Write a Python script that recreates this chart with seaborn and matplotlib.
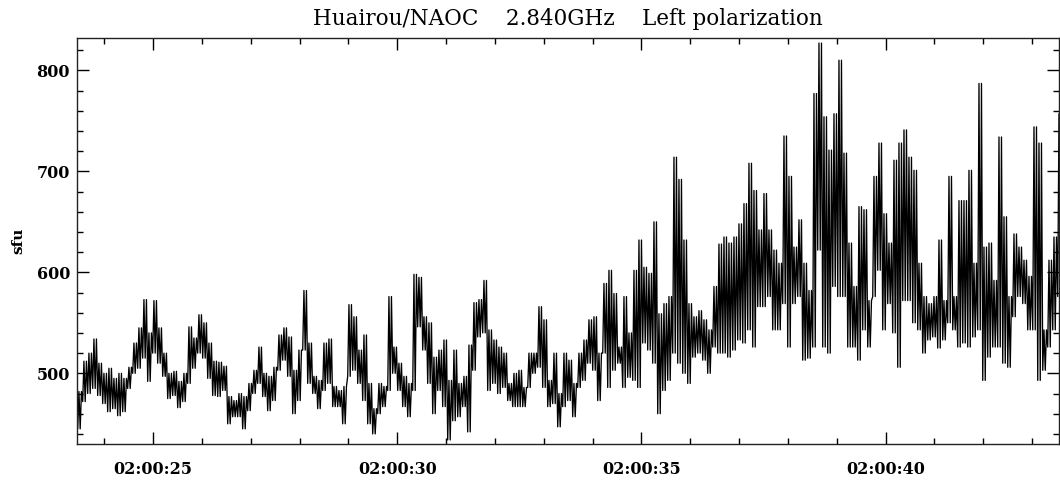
import numpy as np
import pandas as pd
import seaborn as sns
import matplotlib.pyplot as plt
from matplotlib.ticker import MultipleLocator, FuncFormatter

# Flux envelope: for each ~0.1 s slice, the low and high value (sfu)
flux_low = [
    445, 472, 480, 485, 478, 470, 462, 465, 458, 462, 485, 500, 505, 515, 492, 520, 510, 497, 475, 478, 466, 472, 490, 505, 520, 515, 495, 478,
    477, 483, 450, 457, 457, 445, 463, 480, 490, 477, 463, 473, 503, 513, 497, 460, 473, 523, 490, 480, 465, 483, 490, 467, 467, 450, 497, 503,
    490, 473, 450, 440, 460, 467, 483, 500, 483, 467, 457, 483, 546, 523, 490, 460, 483, 467, 434, 453, 457, 467, 442, 503, 536, 540, 483, 490,
    480, 486, 473, 467, 467, 467, 486, 500, 506, 486, 467, 470, 447, 467, 473, 457, 486, 493, 510, 503, 473, 520, 486, 503, 510, 486, 496, 493,
    486, 530, 523, 510, 460, 483, 493, 520, 510, 500, 490, 516, 520, 513, 500, 526, 520, 520, 516, 523, 533, 530, 543, 526, 566, 566, 576, 543,
    543, 569, 526, 569, 576, 513, 515, 526, 622, 526, 520, 586, 576, 576, 526, 526, 513, 543, 526, 576, 602, 543, 569, 540, 506, 572, 572, 550,
    543, 520, 533, 536, 525, 533, 550, 543, 526, 530, 526, 536, 543, 493, 516, 526, 526, 510, 506, 556, 576, 569, 543, 543, 493, 503, 526, 543, 576,
]
flux_high = [
    482, 512, 520, 534, 510, 500, 505, 495, 500, 495, 506, 530, 545, 573, 540, 572, 545, 520, 500, 502, 492, 500, 546, 535, 558, 550, 530, 512,
    511, 507, 477, 473, 480, 477, 490, 503, 526, 500, 497, 506, 538, 545, 536, 503, 523, 582, 530, 497, 493, 530, 534, 487, 483, 487, 568, 556,
    523, 538, 490, 465, 490, 487, 576, 526, 510, 497, 490, 598, 595, 556, 550, 516, 523, 533, 493, 523, 490, 497, 528, 570, 573, 592, 543, 533,
    526, 520, 490, 500, 503, 486, 520, 520, 566, 553, 493, 520, 480, 520, 513, 490, 520, 533, 553, 556, 520, 589, 602, 579, 526, 576, 540, 602,
    632, 605, 599, 650, 559, 569, 576, 714, 692, 632, 569, 556, 562, 553, 543, 586, 628, 635, 629, 635, 648, 668, 708, 681, 642, 678, 642, 622,
    609, 735, 695, 625, 652, 609, 582, 777, 827, 754, 721, 757, 810, 718, 629, 586, 665, 662, 572, 695, 728, 658, 629, 711, 728, 741, 714, 701,
    609, 576, 569, 576, 632, 572, 695, 576, 671, 671, 701, 609, 787, 625, 629, 592, 734, 655, 576, 638, 625, 612, 596, 744, 728, 543, 612, 635, 757,
]

# time axis: seconds after 02:00:00, 4 samples per slice (low/high swings)
t_start = 23.455
t_step = 0.0256
x_range = (23.44, 43.55)
y_range = (430, 832)

flux = np.column_stack([flux_low, flux_high, flux_low, flux_high]).ravel()
seconds = t_start + t_step * np.arange(len(flux))
df = pd.DataFrame({'seconds': seconds, 'sfu': flux})

sns.set_style('ticks')
plt.rcParams['font.family'] = ['DejaVu Serif']
plt.rcParams['text.color'] = 'black'
plt.rcParams['axes.labelcolor'] = 'black'

fig = plt.figure(figsize=(10.6, 4.82), dpi=100)
ax = fig.add_axes([0.0726, 0.0788, 0.9264, 0.8424])

sns.lineplot(data=df, x='seconds', y='sfu', color='black', linewidth=0.95, ax=ax)

ax.set_xlim(*x_range)
ax.set_ylim(*y_range)
ax.xaxis.set_major_locator(MultipleLocator(5))
ax.xaxis.set_minor_locator(MultipleLocator(1))
ax.yaxis.set_major_locator(MultipleLocator(100))
ax.yaxis.set_minor_locator(MultipleLocator(20))
ax.xaxis.set_major_formatter(FuncFormatter(lambda v, p: f"02:00:{v:02.0f}"))

ax.tick_params(which='both', direction='in', top=True, right=True, width=1,
               colors='black', labelcolor='black')
ax.tick_params(which='major', length=8.5, labelsize=11.5)
ax.tick_params(which='minor', length=4.3)
ax.tick_params(axis='x', which='major', pad=12)
ax.tick_params(axis='y', which='major', pad=5)
for lab in ax.get_xticklabels() + ax.get_yticklabels():
    lab.set_fontweight('bold')
for sp in ax.spines.values():
    sp.set_linewidth(1)
    sp.set_color('#222222')

ax.set_xlabel('')
ax.set_ylabel('sfu', fontsize=11, fontweight='bold', labelpad=8)
ax.set_title('Huairou/NAOC    2.840GHz    Left polarization', fontsize=15.5, pad=9, color='black')

fig.savefig('out.png', dpi=100)
